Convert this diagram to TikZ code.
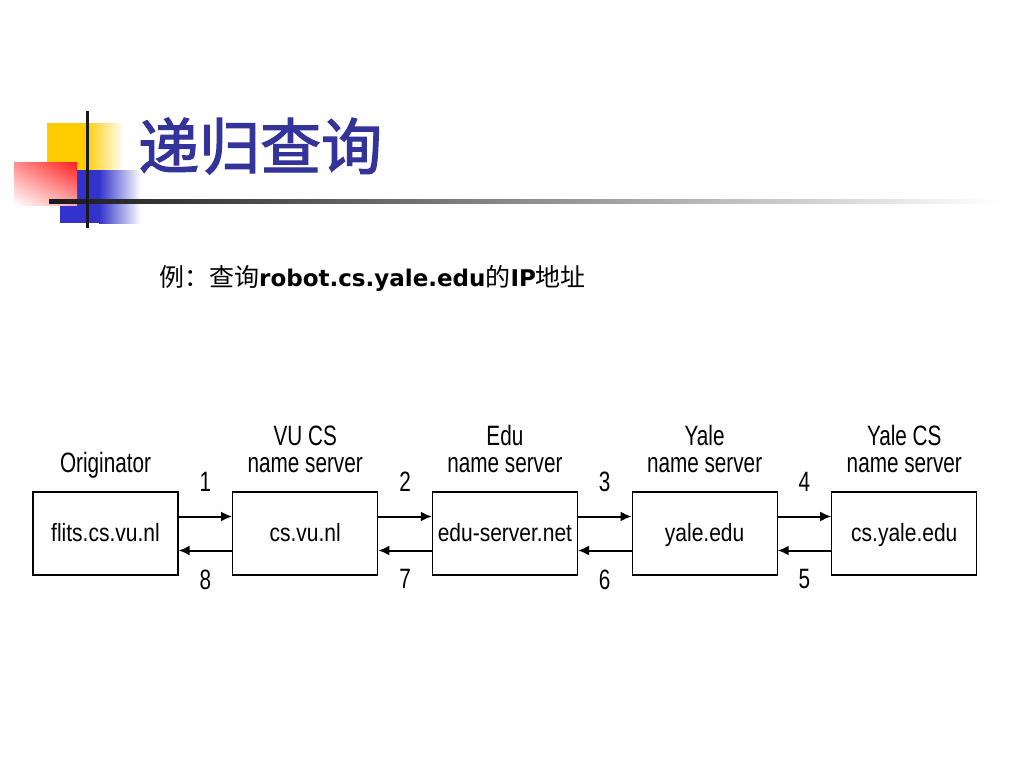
\documentclass[tikz,border=0pt]{standalone}
\usepackage{fontspec}
\newfontfamily\cjk{Noto Sans CJK SC}
\newfontfamily\cjktitle[FakeBold=2]{Noto Sans CJK SC}
\newfontfamily\boxfont[FakeStretch=0.74]{Liberation Sans}
\newfontfamily\hostfont[FakeStretch=0.84]{Liberation Sans}
\newfontfamily\verd{DejaVu Sans}
\usetikzlibrary{positioning}
\usetikzlibrary{arrows.meta}
\usetikzlibrary{shadings}
\definecolor{titleblue}{RGB}{51,51,153}
\definecolor{deco yellow}{RGB}{255,204,0}
\definecolor{deco blue}{RGB}{51,51,204}
\definecolor{deco red}{RGB}{255,30,30}

\begin{document}
\begin{tikzpicture}
		[x=1pt, y=-1pt, node distance={199.7pt},
		server/.style = {draw, line width=1.2pt, minimum width=145pt, minimum height=83pt, inner sep=0pt, text height=18pt, text depth=2pt, font=\hostfont\fontsize{25}{27}\selectfont},
		caption/.style = {align=center, inner sep=0pt, text depth=0pt, font=\boxfont\fontsize{28}{27}\selectfont},
		num/.style = {inner sep=0pt, font=\boxfont\fontsize{28}{27}\selectfont},
		msg/.style = {line width=2pt, -{Latex[length=11pt,width=10pt]}}]
	\useasboundingbox (0,0) rectangle (1024,768);
	% title decoration
	\fill[deco yellow] (47,123) rectangle (86,172);
	\shade[left color=deco yellow, right color=white] (85,123) rectangle (124,172);
	\fill[deco blue] (60,170) rectangle (100,223);
	\shade[left color=deco blue, right color=white] (99,170) rectangle (141,223);
	\shade[upper right=deco red, upper left=red!45, lower right=red!35, lower left=white] (14,162) rectangle (77,205);
	\shade[left color=black!90, middle color=black!45, right color=white] (49,199) rectangle (1000,203);
	\fill[black!90] (85.5,111) rectangle (88.5,228);
	\node[anchor=west, inner sep=0pt, text=titleblue, font=\cjktitle\fontsize{61}{61}\selectfont] (title) at (138,146) {递归查询};
	\node[anchor=west, inner sep=0pt, font=\fontsize{25}{25}\selectfont] (task) at (159,278)
		{\cjk 例：查询{\verd\bfseries\fontsize{23}{23}\selectfont robot.cs.yale.edu}的{\verd\bfseries\fontsize{23}{23}\selectfont IP}地址};
	% servers
	\node[server] (orig) at (105.5,533.5) {flits.cs.vu.nl};
	\node[server] (vucs) [right of = orig] {cs.vu.nl};
	\node[server] (edu) [right of = vucs] {edu-server.net};
	\node[server] (yale) [right of = edu] {yale.edu};
	\node[server] (yalecs) [right of = yale] {cs.yale.edu};
	\node[caption] (origcap) [above=19pt of orig] {Originator};
	\node[caption] (vucscap) [above=19pt of vucs] {VU CS\\name server};
	\node[caption] (educap) [above=19pt of edu] {Edu\\name server};
	\node[caption] (yalecap) [above=19pt of yale] {Yale\\name server};
	\node[caption] (yalecscap) [above=19pt of yalecs] {Yale CS\\name server};
	% requests
	\draw[msg] ([yshift=17pt]orig.east) -- node[num, above=24pt] {1} ([yshift=17pt]vucs.west);
	\draw[msg] ([yshift=17pt]vucs.east) -- node[num, above=24pt] {2} ([yshift=17pt]edu.west);
	\draw[msg] ([yshift=17pt]edu.east) -- node[num, above=24pt] {3} ([yshift=17pt]yale.west);
	\draw[msg] ([yshift=17pt]yale.east) -- node[num, above=24pt] {4} ([yshift=17pt]yalecs.west);
	% replies
	\draw[msg] ([yshift=-17pt]yalecs.west) -- node[num, below=18pt] {5} ([yshift=-17pt]yale.east);
	\draw[msg] ([yshift=-17pt]yale.west) -- node[num, below=18pt] {6} ([yshift=-17pt]edu.east);
	\draw[msg] ([yshift=-17pt]edu.west) -- node[num, below=18pt] {7} ([yshift=-17pt]vucs.east);
	\draw[msg] ([yshift=-17pt]vucs.west) -- node[num, below=18pt] {8} ([yshift=-17pt]orig.east);
\end{tikzpicture}
\end{document}
